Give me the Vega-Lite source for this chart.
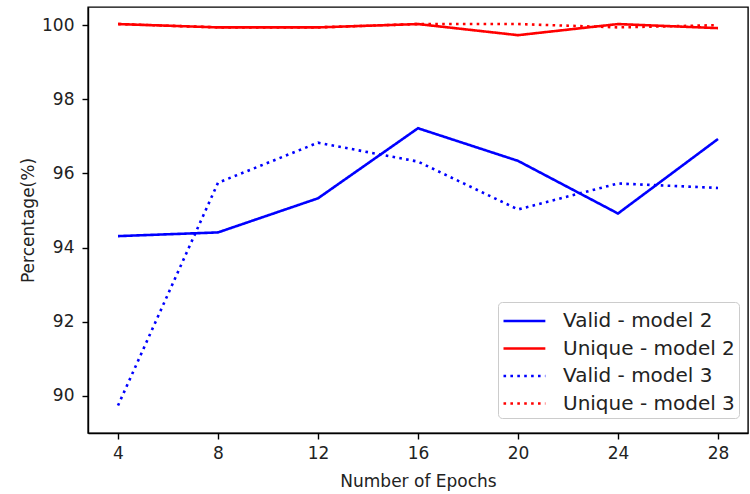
{
  "$schema": "https://vega.github.io/schema/vega-lite/v6.json",
  "autosize": "none",
  "width": 660,
  "height": 426,
  "padding": {"left": 88, "top": 7, "right": 2, "bottom": 61},
  "background": "white",
  "config": {
    "font": "DejaVu Sans",
    "view": {"stroke": "black", "strokeWidth": 1.4},
    "axis": {
      "grid": false,
      "domainColor": "black",
      "domainWidth": 1.4,
      "tickColor": "black",
      "tickWidth": 1.4,
      "tickSize": 6,
      "labelFont": "DejaVu Sans",
      "labelFontSize": 17,
      "labelColor": "#222",
      "titleFont": "DejaVu Sans",
      "titleFontSize": 17,
      "titleFontWeight": "normal",
      "titleColor": "#222"
    }
  },
  "data": {
    "values": [
      {"epoch": 4, "series": "Valid - model 2", "value": 94.31},
      {"epoch": 8, "series": "Valid - model 2", "value": 94.41},
      {"epoch": 12, "series": "Valid - model 2", "value": 95.33},
      {"epoch": 16, "series": "Valid - model 2", "value": 97.22},
      {"epoch": 20, "series": "Valid - model 2", "value": 96.34},
      {"epoch": 24, "series": "Valid - model 2", "value": 94.92},
      {"epoch": 28, "series": "Valid - model 2", "value": 96.93},
      {"epoch": 4, "series": "Unique - model 2", "value": 100.03},
      {"epoch": 8, "series": "Unique - model 2", "value": 99.94},
      {"epoch": 12, "series": "Unique - model 2", "value": 99.94},
      {"epoch": 16, "series": "Unique - model 2", "value": 100.03},
      {"epoch": 20, "series": "Unique - model 2", "value": 99.73},
      {"epoch": 24, "series": "Unique - model 2", "value": 100.03},
      {"epoch": 28, "series": "Unique - model 2", "value": 99.92},
      {"epoch": 4, "series": "Valid - model 3", "value": 89.74},
      {"epoch": 8, "series": "Valid - model 3", "value": 95.75},
      {"epoch": 12, "series": "Valid - model 3", "value": 96.83},
      {"epoch": 16, "series": "Valid - model 3", "value": 96.32},
      {"epoch": 20, "series": "Valid - model 3", "value": 95.03},
      {"epoch": 24, "series": "Valid - model 3", "value": 95.73},
      {"epoch": 28, "series": "Valid - model 3", "value": 95.61},
      {"epoch": 4, "series": "Unique - model 3", "value": 100.03},
      {"epoch": 8, "series": "Unique - model 3", "value": 99.94},
      {"epoch": 12, "series": "Unique - model 3", "value": 99.94},
      {"epoch": 16, "series": "Unique - model 3", "value": 100.03},
      {"epoch": 20, "series": "Unique - model 3", "value": 100.03},
      {"epoch": 24, "series": "Unique - model 3", "value": 99.94},
      {"epoch": 28, "series": "Unique - model 3", "value": 100.0}
    ]
  },
  "mark": {"type": "line", "strokeWidth": 2.6, "clip": true},
  "encoding": {
    "x": {
      "field": "epoch",
      "type": "quantitative",
      "scale": {"domain": [2.8, 29.2], "nice": false, "zero": false},
      "axis": {"values": [4, 8, 12, 16, 20, 24, 28], "title": "Number of Epochs", "labelPadding": 6, "titlePadding": 12}
    },
    "y": {
      "field": "value",
      "type": "quantitative",
      "scale": {"domain": [89.0, 100.49], "nice": false, "zero": false},
      "axis": {"values": [90, 92, 94, 96, 98, 100], "title": "Percentage(%)", "labelPadding": 8, "titlePadding": 4}
    },
    "color": {
      "field": "series",
      "type": "nominal",
      "scale": {
        "domain": ["Valid - model 2", "Unique - model 2", "Valid - model 3", "Unique - model 3"],
        "range": ["#0000ff", "#ff0000", "#0000ff", "#ff0000"]
      },
      "legend": {
        "title": null,
        "orient": "none",
        "legendX": 410,
        "legendY": 295,
        "fillColor": "white",
        "strokeColor": "#cccccc",
        "cornerRadius": 4,
        "padding": 4,
        "symbolType": "M-1,0H2.1",
        "symbolSize": 729,
        "symbolStrokeWidth": 2.6,
        "labelFontSize": 20,
        "labelFont": "DejaVu Sans",
        "labelColor": "#222",
        "labelOffset": 31,
        "labelLimit": 400,
        "rowPadding": 2.5
      }
    },
    "strokeDash": {
      "field": "series",
      "type": "nominal",
      "scale": {
        "domain": ["Valid - model 2", "Unique - model 2", "Valid - model 3", "Unique - model 3"],
        "range": [[1, 0], [1, 0], [2.6, 4.3], [2.6, 4.3]]
      },
      "legend": null
    }
  }
}
